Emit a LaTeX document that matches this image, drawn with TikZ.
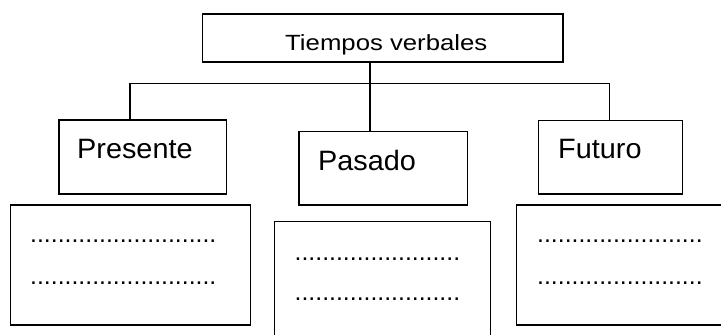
\documentclass[tikz,border=0pt]{standalone}
\usepackage{fontspec}
\setmainfont{Liberation Sans}
\newfontfamily\titlefont[FakeStretch=1.17]{Liberation Sans}
\newfontfamily\wordfont[FakeStretch=1.03]{Liberation Sans}
\begin{document}
\begin{tikzpicture}[x=1pt,y=-1pt,
  box/.style={draw=black, line width=1.3pt, rectangle, inner sep=0pt, anchor=north west},
  lbl/.style={anchor=base west, inner sep=0pt, font=\wordfont\fontsize{28}{30}\selectfont},
  ttl/.style={anchor=base west, inner sep=0pt, font=\titlefont\fontsize{22}{24}\selectfont},
  dotrow/.style={anchor=base west, inner sep=0pt, font=\fontsize{24.8}{26}\selectfont},
  conn/.style={draw=black, line width=1.3pt}]
\useasboundingbox (0,0) rectangle (721,335);
\clip (0,0) rectangle (721,335);
% top box
\node[box, minimum width=360.6pt, minimum height=48pt] (top) at (201.7,13.3) {};
\node[ttl] (toplbl) at (285,50) {Tiempos verbales};
% category boxes
\node[box, minimum width=167.7pt, minimum height=74pt] (pre) at (58.3,119.3) {};
\node[lbl] (prelbl) at (77,158.3) {Presente};
\node[box, minimum width=168.4pt, minimum height=73.3pt] (pas) at (298.3,131) {};
\node[lbl] (paslbl) at (318,170.7) {Pasado};
\node[box, minimum width=144.3pt, minimum height=73.3pt] (fut) at (537.7,120) {};
\node[lbl] (futlbl) at (558,158.3) {Futuro};
% lower boxes
\node[box, minimum width=240pt, minimum height=120pt] (preb) at (10,204.3) {};
\node[dotrow] (pred1) at (30,242.2) {...........................};
\node[dotrow] (pred2) at (30,284) {...........................};
\node[box, minimum width=216pt, minimum height=130pt] (pasb) at (274,221) {};
\node[dotrow] (pasd1) at (294.5,260) {........................};
\node[dotrow] (pasd2) at (294.5,300.3) {........................};
\node[box, minimum width=220pt, minimum height=120pt] (futb) at (515.7,204.3) {};
\node[dotrow] (futd1) at (537,242.2) {........................};
\node[dotrow] (futd2) at (537,284) {........................};
% connectors
\coordinate (stem) at (370,61.3);
\coordinate (hl) at (130,83.3);
\coordinate (hr) at (609.3,83.3);
\draw[conn] (stem) -- (stem |- pas.north);
\draw[conn] (hl |- pre.north) -- (hl) -- (hr) -- (hr |- fut.north);
\end{tikzpicture}
\end{document}
